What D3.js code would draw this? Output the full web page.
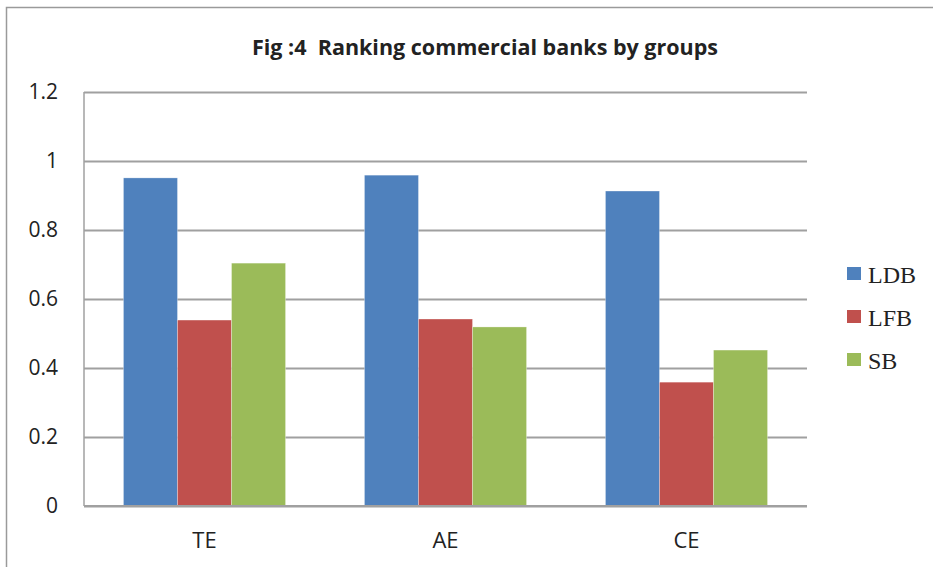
<!DOCTYPE html>
<html>
<head>
<meta charset="utf-8">
<script src="https://cdn.jsdelivr.net/npm/d3@7"></script>
<style>
body { margin: 0; background: #fff; }
svg { display: block; }
</style>
</head>
<body>
<div id="chart"></div>
<script>
// data
var groups = ["TE", "AE", "CE"];
var seriesNames = ["LDB", "LFB", "SB"];
var ldb = [0.951, 0.959, 0.913];
var lfb = [0.539, 0.542, 0.359];
var sb = [0.704, 0.519, 0.452];
var yTicks = [0, 0.2, 0.4, 0.6, 0.8, 1, 1.2];
var colors = ["#4F81BD", "#C0504D", "#9BBB59"];

var W = 933, H = 567;
var plotLeft = 84, plotRight = 807, plotTop = 92, plotBottom = 506;

var svg = d3.select("#chart").append("svg")
	.attr("width", W)
	.attr("height", H);

// outer frame
svg.append("rect")
	.attr("x", 6.5)
	.attr("y", 7.5)
	.attr("width", W + 20)
	.attr("height", H + 20)
	.attr("fill", "none")
	.attr("stroke", "#9a9a9a")
	.attr("stroke-width", 1.5);

var y = d3.scaleLinear().domain([0, 1.2]).range([plotBottom, plotTop]);
var x0 = d3.scaleBand().domain(groups).range([plotLeft, plotRight]).padding(0);
var x1 = d3.scaleBand().domain(seriesNames).range([0, x0.bandwidth()])
	.paddingInner(0).paddingOuter(0.73);

// gridlines + tick labels
var yAxis = d3.axisLeft(y).tickValues(yTicks)
	.tickSize(-(plotRight - plotLeft))
	.tickFormat(function(d) { return d3.format("")(d); });

var gAxis = svg.append("g")
	.attr("transform", "translate(" + plotLeft + ",0)")
	.call(yAxis);
gAxis.select(".domain").remove();
gAxis.selectAll(".tick line")
	.attr("stroke", "#a0a0a0")
	.attr("stroke-width", 2);
gAxis.selectAll(".tick text")
	.attr("x", -26)
	.attr("fill", "#222")
	.style("font-family", "'Open Sans', sans-serif")
	.style("font-size", "21px");

// left axis line
svg.append("line")
	.attr("x1", plotLeft).attr("x2", plotLeft)
	.attr("y1", plotTop).attr("y2", plotBottom)
	.attr("stroke", "#a0a0a0")
	.attr("stroke-width", 1.5);

var table = [ldb, lfb, sb];
var gGroup = svg.selectAll(".grp")
	.data(groups)
	.enter().append("g")
	.attr("class", "grp")
	.attr("transform", function(d) { return "translate(" + x0(d) + ",0)"; });

gGroup.selectAll("rect")
	.data(function(d, i) {
		return seriesNames.map(function(s, j) { return {s: s, v: table[j][i], c: colors[j]}; });
	})
	.enter().append("rect")
	.attr("x", function(d) { return x1(d.s); })
	.attr("width", x1.bandwidth())
	.attr("y", function(d) { return y(d.v); })
	.attr("height", function(d) { return plotBottom - y(d.v); })
	.attr("fill", function(d) { return d.c; })
	.attr("stroke", "#fff")
	.attr("stroke-opacity", 0.5)
	.attr("stroke-width", 0.6);

// baseline
svg.append("line")
	.attr("x1", plotLeft).attr("x2", plotRight)
	.attr("y1", plotBottom).attr("y2", plotBottom)
	.attr("stroke", "#a0a0a0")
	.attr("stroke-width", 2);

// category labels
svg.selectAll(".cat")
	.data(groups)
	.enter().append("text")
	.attr("class", "cat")
	.attr("x", function(d) { return x0(d) + x0.bandwidth() / 2; })
	.attr("y", 548)
	.attr("text-anchor", "middle")
	.attr("fill", "#222")
	.style("font-family", "'Open Sans', sans-serif")
	.style("font-size", "22px")
	.text(function(d) { return d; });

// title
svg.append("text")
	.attr("x", 485)
	.attr("y", 55)
	.attr("text-anchor", "middle")
	.attr("fill", "#222")
	.attr("textLength", 466)
	.attr("lengthAdjust", "spacingAndGlyphs")
	.style("font-family", "'Open Sans', sans-serif")
	.style("font-weight", "bold")
	.style("font-size", "21px")
	.style("white-space", "pre")
	.text("Fig :4  Ranking commercial banks by groups");

// legend
var legend = svg.selectAll(".leg")
	.data(seriesNames)
	.enter().append("g")
	.attr("class", "leg")
	.attr("transform", function(d, i) { return "translate(847," + (267 + i * 43) + ")"; });

legend.append("rect")
	.attr("width", 14)
	.attr("height", 13)
	.attr("fill", function(d, i) { return colors[i]; });

legend.append("text")
	.attr("x", 21)
	.attr("y", 16)
	.attr("fill", "#222")
	.style("font-family", "'Liberation Serif', serif")
	.style("font-size", "24px")
	.text(function(d) { return d; });
</script>
</body>
</html>
